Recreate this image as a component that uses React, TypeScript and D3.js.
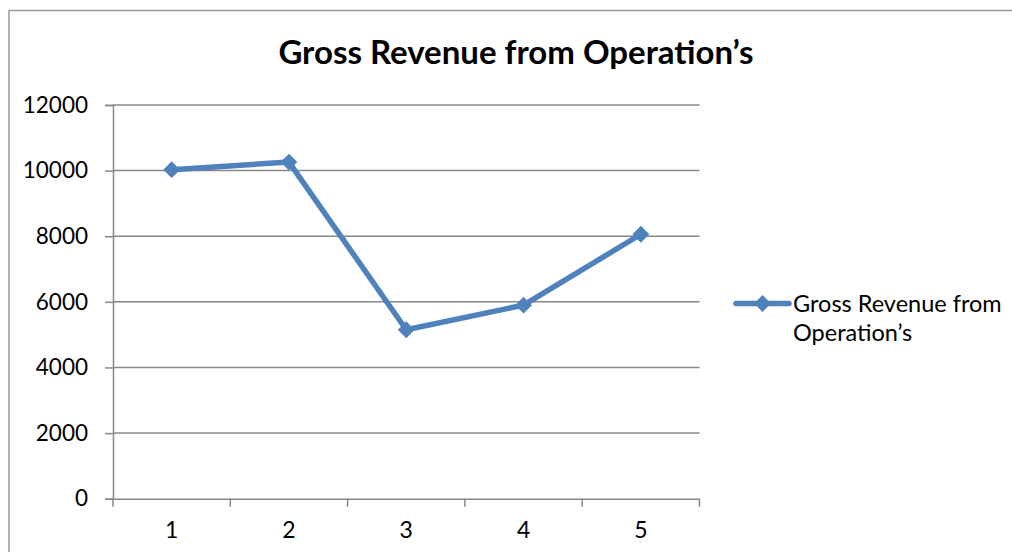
import * as d3 from "d3";
import { useEffect, useRef } from "react";

const categories = ["1", "2", "3", "4", "5"];
const revenue = [10030, 10260, 5150, 5900, 8060];
const yTicks = [0, 2000, 4000, 6000, 8000, 10000, 12000];
const seriesName = "Gross Revenue from Operation\u2019s";
const title = "Gross Revenue from Operation\u2019s";

export default function App() {
  const svgRef = useRef<SVGSVGElement>(null);

  useEffect(() => {
    const svg = d3.select(svgRef.current);
    svg.selectAll("*").remove();

    const width = 1012;
    const height = 552;
    const font = "Lato, 'Open Sans', sans-serif";
    const blue = "#4F81BD";
    const grid = "#888888";

    // outer chart frame (left and top edges are visible)
    svg.append("path")
      .attr("d", `M9,${height} L9,10.5 L${width},10.5`)
      .attr("fill", "none")
      .attr("stroke", "#999")
      .attr("stroke-width", 1.5);

    const x = d3.scaleBand().domain(categories).range([113, 699.5]);
    const y = d3.scaleLinear().domain([0, 12000]).range([498.7, 105]);

    // gridlines
    svg.append("g")
      .selectAll("line")
      .data(yTicks.filter(d => d > 0))
      .enter()
      .append("line")
      .attr("x1", 113)
      .attr("x2", 699.5)
      .attr("y1", d => y(d))
      .attr("y2", d => y(d))
      .attr("stroke", grid)
      .attr("stroke-width", 1.5);

    // y axis
    const yAxis = svg.append("g")
      .attr("transform", "translate(113,0)")
      .call(d3.axisLeft(y).tickValues(yTicks).tickSize(8).tickPadding(17).tickFormat(d3.format("d")));
    yAxis.select(".domain").attr("stroke", grid).attr("stroke-width", 1.5);
    yAxis.selectAll(".tick line").attr("stroke", grid).attr("stroke-width", 1.5);
    yAxis.selectAll("text")
      .style("font-family", font)
      .style("font-size", "22.5px")
      .attr("fill", "#000");

    // x axis
    const xAxis = svg.append("g")
      .attr("transform", `translate(0,${y(0)})`)
      .call(d3.axisBottom(x).tickSize(0).tickPadding(23));
    xAxis.select(".domain").attr("stroke", grid).attr("stroke-width", 1.5);
    xAxis.selectAll("text")
      .style("font-family", font)
      .style("font-size", "23px")
      .attr("fill", "#000");
    // tick marks between categories
    const edges = [...categories.map(c => x(c)!), x.range()[1]];
    xAxis.selectAll(".edge")
      .data(edges)
      .enter()
      .append("line")
      .attr("x1", d => d)
      .attr("x2", d => d)
      .attr("y1", 0)
      .attr("y2", 8)
      .attr("stroke", grid)
      .attr("stroke-width", 1.5);

    // series line
    const cx = (i: number) => x(categories[i])! + x.bandwidth() / 2;
    const line = d3.line<number>()
      .x((d, i) => cx(i))
      .y(d => y(d));
    svg.append("path")
      .datum(revenue)
      .attr("d", line)
      .attr("fill", "none")
      .attr("stroke", blue)
      .attr("stroke-width", 5.5)
      .attr("stroke-linejoin", "round");

    const diamond = d3.symbol().type(d3.symbolDiamond2).size(180);
    svg.append("g")
      .selectAll("path")
      .data(revenue)
      .enter()
      .append("path")
      .attr("d", diamond)
      .attr("transform", (d, i) => `translate(${cx(i)},${y(d)})`)
      .attr("fill", blue);

    // title
    svg.append("text")
      .attr("x", 516)
      .attr("y", 64)
      .attr("text-anchor", "middle")
      .style("font-family", font)
      .style("font-weight", "bold")
      .style("font-size", "33px")
      .attr("fill", "#000")
      .text(title);

    // legend
    const lg = svg.append("g").attr("transform", "translate(736,303.5)");
    lg.append("line")
      .attr("x1", 0)
      .attr("x2", 53)
      .attr("stroke", blue)
      .attr("stroke-width", 5.5)
      .attr("stroke-linecap", "round");
    lg.append("path")
      .attr("d", diamond)
      .attr("transform", "translate(26.5,0)")
      .attr("fill", blue);
    const words = seriesName.split(" ");
    const lines = [words.slice(0, 3).join(" "), words.slice(3).join(" ")];
    lg.selectAll("text")
      .data(lines)
      .enter()
      .append("text")
      .attr("x", 57)
      .attr("y", (d, i) => 8 + i * 29.5)
      .style("font-family", font)
      .style("font-size", "23.5px")
      .attr("fill", "#000")
      .text(d => d);
  }, []);

  return (
    <svg
      ref={svgRef}
      width={1012}
      height={552}
      style={{ position: "absolute", left: 0, top: 0, background: "#fff" }}
    />
  );
}
